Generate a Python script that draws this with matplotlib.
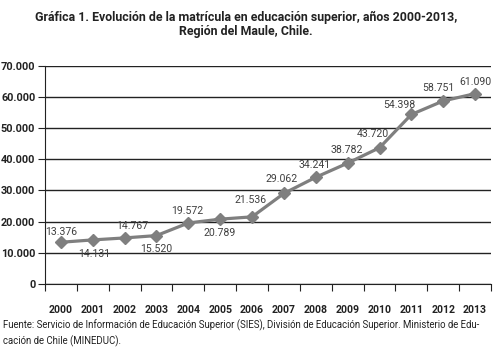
import matplotlib.pyplot as plt
from matplotlib.ticker import FuncFormatter

years = ['2000', '2001', '2002', '2003', '2004', '2005', '2006',
         '2007', '2008', '2009', '2010', '2011', '2012', '2013']
matricula = [13376, 14131, 14767, 15520, 19572, 20789, 21536,
             29062, 34241, 38782, 43720, 54398, 58751, 61090]

# label offsets (pixels) relative to each point
label_dx = [0, 1, 8, 0, -1, -1, -2, -2, -1, -1, -7, -12, -5, 0]
label_dy = [10, -14, 12, -13, 12, -14, 17, 14, 12, 13, 14, 9, 13, 12]

plt.rcParams['font.family'] = ['Roboto', 'DejaVu Sans']

fig = plt.figure(figsize=(4.97, 3.64), dpi=100)
ax = fig.add_axes([0.0905, 0.22, 0.8975, 0.599])

x = list(range(len(years)))
ax.plot(x, matricula, color='#7f7f7f', linewidth=2.3, marker='D',
        markersize=6.5, zorder=3)

for i, v in enumerate(matricula):
    lbl = f'{v:,}'.replace(',', '.')
    ax.annotate(lbl, (x[i], v), xytext=(label_dx[i], label_dy[i]),
                textcoords='offset pixels', ha='center', va='center',
                fontsize=7.6, color='#404040')

ax.set_xlim(-0.5, len(years) - 0.5)
ax.set_ylim(0, 70000)
ax.set_yticks(range(0, 70001, 10000))
ax.yaxis.set_major_formatter(FuncFormatter(lambda v, p: f'{int(v):,}'.replace(',', '.')))
ax.grid(axis='y', color='#222222', linewidth=1.0)
ax.set_axisbelow(True)

ax.set_xticks([i - 0.5 for i in range(len(years) + 1)])
ax.set_xticklabels([])
ax.set_xticks(x, minor=True)
ax.set_xticklabels(years, minor=True, fontsize=7.6, fontweight='bold', color='#222222')
ax.tick_params(axis='x', which='minor', length=0, pad=15)
ax.tick_params(axis='x', which='major', length=5, color='#222222')
ax.tick_params(axis='y', length=5, color='#222222', labelsize=7.8, labelcolor='#222222', pad=2)
for lab in ax.get_yticklabels():
    lab.set_fontweight('bold')

for s in ['top', 'right']:
    ax.spines[s].set_visible(False)
ax.spines['left'].set_color('#222222')
ax.spines['bottom'].set_color('#222222')

fig.text(0.495, 0.97, 'Gráfica 1. Evolución de la matrícula en educación superior, años 2000-2013,\nRegión del Maule, Chile.',
         ha='center', va='top', fontsize=8.9, fontweight='bold', color='#222222', linespacing=1.1)

fig.text(0.006, 0.085, 'Fuente: Servicio de Información de Educación Superior (SIES), División de Educación Superior. Ministerio de Edu-\ncación de Chile (MINEDUC).',
         ha='left', va='center', fontsize=6.9, color='#222222', linespacing=1.45)

plt.savefig('out.png', dpi=100)
